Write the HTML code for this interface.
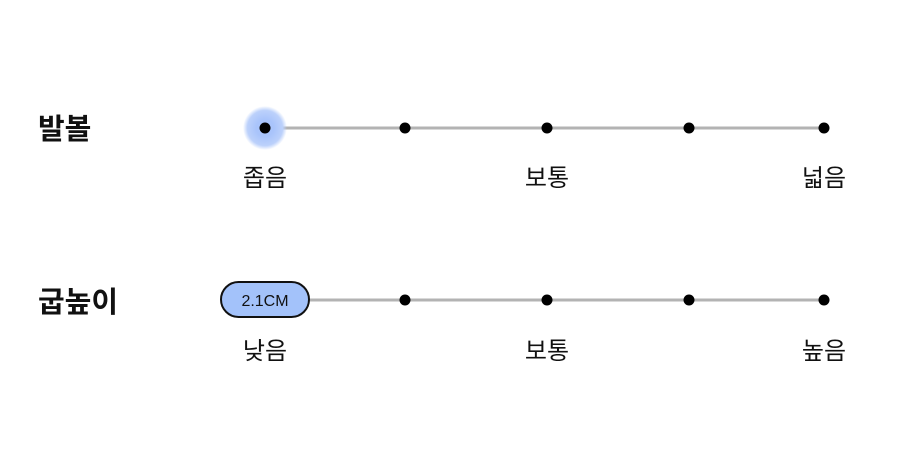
<!DOCTYPE html>
<html><head><meta charset="utf-8"><style>
html,body{margin:0;padding:0;background:#fff;width:900px;height:476px;overflow:hidden}
text{font-family:"Liberation Sans","Noto Sans CJK KR",sans-serif;fill:#111}
</style></head><body>
<svg width="900" height="476" viewBox="0 0 900 476" xmlns="http://www.w3.org/2000/svg">
<defs><radialGradient id="g"><stop offset="0.4" stop-color="#a9c4fb"/><stop offset="0.8" stop-color="#bcd1fb"/><stop offset="1" stop-color="#bcd1fb" stop-opacity="0"/></radialGradient></defs>
<text x="38" y="139" font-size="29" font-weight="bold">발볼</text>
<line x1="265" y1="128" x2="824" y2="128" stroke="#b3b3b3" stroke-width="3"/>
<circle cx="265" cy="128" r="22" fill="url(#g)"/>
<circle cx="265" cy="128" r="5.5" fill="#000"/>
<circle cx="405" cy="128" r="5.5" fill="#000"/>
<circle cx="547" cy="128" r="5.5" fill="#000"/>
<circle cx="689" cy="128" r="5.5" fill="#000"/>
<circle cx="824" cy="128" r="5.5" fill="#000"/>
<text x="265" y="186" font-size="24" text-anchor="middle">좁음</text>
<text x="547" y="186" font-size="24" text-anchor="middle">보통</text>
<text x="824" y="186" font-size="24" text-anchor="middle">넓음</text>

<text x="38" y="312" font-size="29" font-weight="bold">굽높이</text>
<line x1="265" y1="300" x2="824" y2="300" stroke="#b3b3b3" stroke-width="3"/>
<rect x="221" y="282" width="88" height="35" rx="17.5" fill="#a3c2fa" stroke="#111" stroke-width="2"/>
<text x="265" y="306" font-size="16" text-anchor="middle">2.1CM</text>
<circle cx="405" cy="300" r="5.5" fill="#000"/>
<circle cx="547" cy="300" r="5.5" fill="#000"/>
<circle cx="689" cy="300" r="5.5" fill="#000"/>
<circle cx="824" cy="300" r="5.5" fill="#000"/>
<text x="265" y="359" font-size="24" text-anchor="middle">낮음</text>
<text x="547" y="359" font-size="24" text-anchor="middle">보통</text>
<text x="824" y="359" font-size="24" text-anchor="middle">높음</text>
</svg>
</body></html>
